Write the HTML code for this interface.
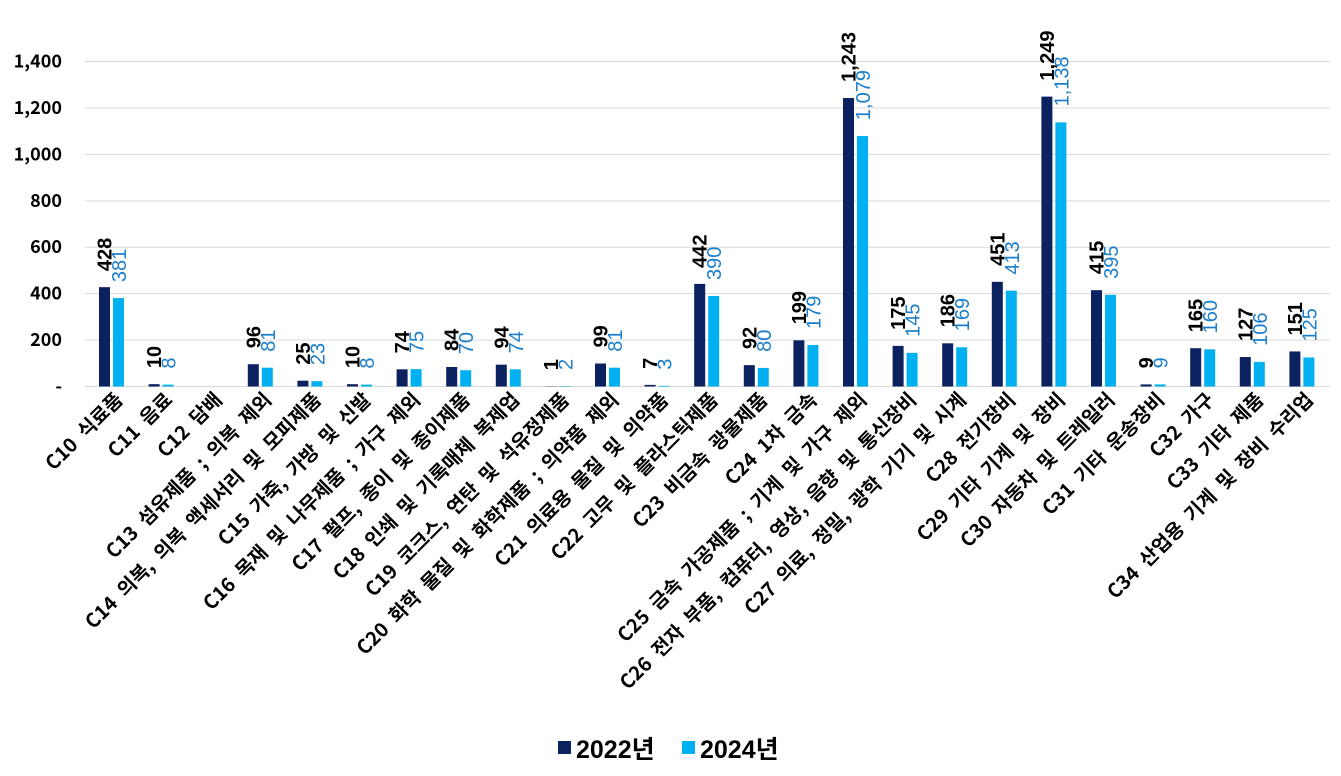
<!DOCTYPE html>
<html><head><meta charset="utf-8"><style>
body{margin:0;background:#fff;}
svg{display:block;font-family:"Liberation Sans","Noto Sans CJK KR",sans-serif;}
.n{font-family:"Noto Sans CJK KR","Liberation Sans",sans-serif;}
.x{word-spacing:5px;}
</style></head><body>
<svg id="c" width="1341" height="776" viewBox="0 0 1341 776" xmlns="http://www.w3.org/2000/svg"></svg>
<script>
var d=[["C10 식료품",428,381],["C11 음료",10,8],["C12 담배",null,null],["C13 섬유제품 ; 의복 제외",96,81],["C14 의복, 의복 액세서리 및 모피제품",25,23],["C15 가죽, 가방 및 신발",10,8],["C16 목재 및 나무제품 ; 가구 제외",74,75],["C17 펄프, 종이 및 종이제품",84,70],["C18 인쇄 및 기록매체 복제업",94,74],["C19 코크스, 연탄 및 석유정제품",1,2],["C20 화학 물질 및 화학제품 ; 의약품 제외",99,81],["C21 의료용 물질 및 의약품",7,3],["C22 고무 및 플라스틱제품",442,390],["C23 비금속 광물제품",92,80],["C24 1차 금속",199,179],["C25 금속 가공제품 ; 기계 및 가구 제외",1243,1079],["C26 전자 부품, 컴퓨터, 영상, 음향 및 통신장비",175,145],["C27 의료, 정밀, 광학 기기 및 시계",186,169],["C28 전기장비",451,413],["C29 기타 기계 및 장비",1249,1138],["C30 자동차 및 트레일러",415,395],["C31 기타 운송장비",9,9],["C32 가구",165,160],["C33 기타 제품",127,106],["C34 산업용 기계 및 장비 수리업",151,125]];
var y0=386.5,k=0.2321,s='';
function fmt(v){return v.toLocaleString('en-US');}
for(var t=0;t<=1400;t+=200){var y=y0-t*k;
 if(t>0)s+='<line x1="85" x2="1330" y1="'+y+'" y2="'+y+'" stroke="#d9d9d9" stroke-width="1"/>';
 s+='<text class="n" x="62" y="'+(y+6)+'" text-anchor="end" font-size="18" font-weight="bold">'+(t?fmt(t):'-')+'</text>';}
s+='<line x1="85" x2="1330" y1="'+y0+'" y2="'+y0+'" stroke="#d9d9d9"/>';
d.forEach(function(r,i){var c=112+i*49.6;
 if(r[1]!==null){
  var h1=r[1]*k,h2=r[2]*k;
  s+='<rect x="'+(c-13)+'" y="'+(y0-h1)+'" width="11" height="'+h1+'" fill="#0c215f"/>';
  s+='<rect x="'+(c+1)+'" y="'+(y0-h2)+'" width="11" height="'+h2+'" fill="#00b0f0"/>';
  var ty=y0-h1-16;s+='<text transform="translate('+(c-0.5)+','+ty+') rotate(-90)" font-size="20" font-weight="bold" fill="#000">'+fmt(r[1])+'</text>';
  ty=y0-h2-16;s+='<text transform="translate('+(c+14)+','+ty+') rotate(-90)" font-size="20" fill="#1b7fcc">'+fmt(r[2])+'</text>';
 }
 s+='<text class="n x" transform="translate('+(c+12)+',401) rotate(-45)" text-anchor="end" font-size="19.6" font-weight="bold">'+r[0]+'</text>';
});
s+='<rect x="558" y="741" width="13" height="13" fill="#0c215f"/><text x="576" y="758" font-size="25" font-weight="bold">2022년</text>';
s+='<rect x="682" y="741" width="13" height="13" fill="#00b0f0"/><text x="700" y="758" font-size="25" font-weight="bold">2024년</text>';
document.getElementById('c').innerHTML=s;
</script>
</body></html>
